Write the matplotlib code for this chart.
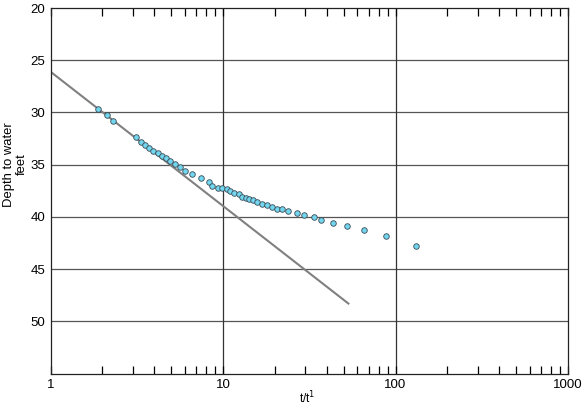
import numpy as np
import matplotlib
matplotlib.use('Agg')
import matplotlib.pyplot as plt
from matplotlib.ticker import FixedLocator, NullFormatter, LogLocator

# t/t' ratio and depth to water (feet)
ratio = [1.89, 2.13, 2.30, 3.13, 3.36, 3.54, 3.73, 3.95, 4.18, 4.43,
         4.67, 4.91, 5.26, 5.63, 6.05, 6.59, 7.46, 8.26, 8.61, 9.38,
         9.84, 10.50, 10.98, 11.58, 12.30, 12.89, 13.50, 14.15, 14.83, 15.81,
         16.90, 18.06, 19.23, 20.64, 21.89, 23.91, 26.96, 29.37, 33.56, 37.14,
         43.60, 52.13, 65.69, 87.74, 130.98]
depth = [29.69, 30.27, 30.78, 32.38, 32.86, 33.10, 33.39, 33.66, 33.93, 34.14,
         34.37, 34.61, 34.92, 35.26, 35.64, 35.90, 36.31, 36.67, 37.03, 37.20,
         37.23, 37.37, 37.53, 37.71, 37.85, 38.12, 38.21, 38.28, 38.38, 38.62,
         38.73, 38.88, 39.02, 39.21, 39.26, 39.48, 39.61, 39.84, 40.06, 40.28,
         40.54, 40.89, 41.21, 41.85, 42.81]

# straight-line fit drawn through the early points
fit_x = [1.0, 53.3]
fit_y = [26.1, 48.3]

x_ticks = [1, 10, 100, 1000]
x_labels = ['1', '10', '100', '1000']
y_ticks = [20, 25, 30, 35, 40, 45, 50]

plt.rcParams['font.family'] = ['Liberation Sans', 'DejaVu Sans']

fig = plt.figure(figsize=(5.82, 4.07), dpi=100)
ax = fig.add_axes([0.0868, 0.0823, 0.8892, 0.898])

# grid lines
for yv in y_ticks[1:]:
    ax.axhline(yv, color='#555555', lw=0.9, zorder=1)
for xv in [10, 100]:
    ax.axvline(xv, color='#333333', lw=0.9, zorder=1)

ax.plot(fit_x, fit_y, color='#808080', lw=1.5, zorder=2)
ax.scatter(ratio, depth, s=16, facecolor='#72d6ef', edgecolor='#3a4a55',
           linewidth=0.6, zorder=3)

ax.set_xscale('log')
ax.set_xlim(1, 1000)
ax.set_ylim(55, 20)

ax.xaxis.set_major_locator(FixedLocator(x_ticks))
ax.set_xticklabels(x_labels)
ax.xaxis.set_minor_locator(LogLocator(base=10, subs=np.arange(2, 10)))
ax.xaxis.set_minor_formatter(NullFormatter())
ax.tick_params(axis='x', which='both', direction='in', top=True, bottom=True,
               length=6, width=0.9, labelsize=9.5, pad=4)

ax.set_yticks(y_ticks)
ax.tick_params(axis='y', which='both', length=0, labelsize=9.5, pad=4)

for sp in ax.spines.values():
    sp.set_linewidth(0.9)
    sp.set_color('#222222')

fig.text(0.527, 0.022, 't/t$^1$', fontsize=8.5, ha='center', va='center')
fig.text(0.027, 0.596, 'Depth to water\nfeet', rotation=90, fontsize=9.4,
         ha='center', va='center', multialignment='center',
         linespacing=1.1)

fig.savefig('out.png', dpi=100)
